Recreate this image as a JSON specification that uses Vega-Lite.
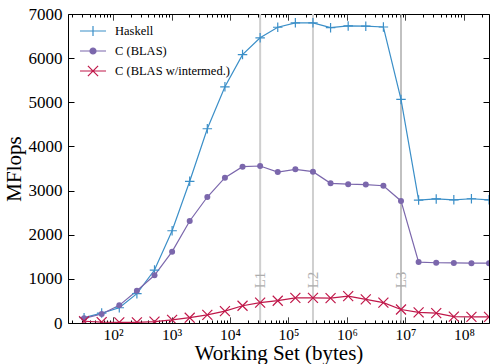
{
  "$schema": "https://vega.github.io/schema/vega-lite/v6.json",
  "width": 421,
  "height": 309,
  "autosize": {"type": "none"},
  "padding": {"left": 68, "top": 14, "right": 1, "bottom": 41},
  "background": "white",
  "config": {
    "view": {"stroke": "#000", "strokeWidth": 1},
    "font": "Liberation Serif",
    "axis": {"domain": false, "grid": false, "tickColor": "#000", "labelColor": "#000", "titleColor": "#000", "labelFont": "Liberation Serif", "titleFont": "Liberation Serif", "titleFontWeight": "normal", "tickSize": -6, "tickWidth": 1}
  },
  "datasets": {
    "perf": [
      {"ws": 32, "mflops": 120, "series": "Haskell"},
      {"ws": 64, "mflops": 225, "series": "Haskell"},
      {"ws": 128, "mflops": 345, "series": "Haskell"},
      {"ws": 256, "mflops": 665, "series": "Haskell"},
      {"ws": 512, "mflops": 1200, "series": "Haskell"},
      {"ws": 1024, "mflops": 2090, "series": "Haskell"},
      {"ws": 2048, "mflops": 3210, "series": "Haskell"},
      {"ws": 4096, "mflops": 4400, "series": "Haskell"},
      {"ws": 8192, "mflops": 5350, "series": "Haskell"},
      {"ws": 16384, "mflops": 6080, "series": "Haskell"},
      {"ws": 32768, "mflops": 6460, "series": "Haskell"},
      {"ws": 65536, "mflops": 6700, "series": "Haskell"},
      {"ws": 131072, "mflops": 6800, "series": "Haskell"},
      {"ws": 262144, "mflops": 6800, "series": "Haskell"},
      {"ws": 524288, "mflops": 6690, "series": "Haskell"},
      {"ws": 1048576, "mflops": 6730, "series": "Haskell"},
      {"ws": 2097152, "mflops": 6725, "series": "Haskell"},
      {"ws": 4194304, "mflops": 6705, "series": "Haskell"},
      {"ws": 8388608, "mflops": 5065, "series": "Haskell"},
      {"ws": 16777216, "mflops": 2785, "series": "Haskell"},
      {"ws": 33554432, "mflops": 2810, "series": "Haskell"},
      {"ws": 67108864, "mflops": 2790, "series": "Haskell"},
      {"ws": 134217728, "mflops": 2815, "series": "Haskell"},
      {"ws": 268435456, "mflops": 2790, "series": "Haskell"},
      {"ws": 32, "mflops": 105, "series": "C (BLAS)"},
      {"ws": 64, "mflops": 204, "series": "C (BLAS)"},
      {"ws": 128, "mflops": 400, "series": "C (BLAS)"},
      {"ws": 256, "mflops": 732, "series": "C (BLAS)"},
      {"ws": 512, "mflops": 1080, "series": "C (BLAS)"},
      {"ws": 1024, "mflops": 1616, "series": "C (BLAS)"},
      {"ws": 2048, "mflops": 2311, "series": "C (BLAS)"},
      {"ws": 4096, "mflops": 2854, "series": "C (BLAS)"},
      {"ws": 8192, "mflops": 3292, "series": "C (BLAS)"},
      {"ws": 16384, "mflops": 3541, "series": "C (BLAS)"},
      {"ws": 32768, "mflops": 3557, "series": "C (BLAS)"},
      {"ws": 65536, "mflops": 3420, "series": "C (BLAS)"},
      {"ws": 131072, "mflops": 3482, "series": "C (BLAS)"},
      {"ws": 262144, "mflops": 3428, "series": "C (BLAS)"},
      {"ws": 524288, "mflops": 3165, "series": "C (BLAS)"},
      {"ws": 1048576, "mflops": 3145, "series": "C (BLAS)"},
      {"ws": 2097152, "mflops": 3135, "series": "C (BLAS)"},
      {"ws": 4194304, "mflops": 3110, "series": "C (BLAS)"},
      {"ws": 8388608, "mflops": 2765, "series": "C (BLAS)"},
      {"ws": 16777216, "mflops": 1380, "series": "C (BLAS)"},
      {"ws": 33554432, "mflops": 1365, "series": "C (BLAS)"},
      {"ws": 67108864, "mflops": 1360, "series": "C (BLAS)"},
      {"ws": 134217728, "mflops": 1355, "series": "C (BLAS)"},
      {"ws": 268435456, "mflops": 1355, "series": "C (BLAS)"},
      {"ws": 32, "mflops": 40, "series": "C (BLAS w/intermed.)"},
      {"ws": 64, "mflops": 20, "series": "C (BLAS w/intermed.)"},
      {"ws": 128, "mflops": 15, "series": "C (BLAS w/intermed.)"},
      {"ws": 256, "mflops": 15, "series": "C (BLAS w/intermed.)"},
      {"ws": 512, "mflops": 30, "series": "C (BLAS w/intermed.)"},
      {"ws": 1024, "mflops": 70, "series": "C (BLAS w/intermed.)"},
      {"ws": 2048, "mflops": 120, "series": "C (BLAS w/intermed.)"},
      {"ws": 4096, "mflops": 185, "series": "C (BLAS w/intermed.)"},
      {"ws": 8192, "mflops": 270, "series": "C (BLAS w/intermed.)"},
      {"ws": 16384, "mflops": 390, "series": "C (BLAS w/intermed.)"},
      {"ws": 32768, "mflops": 460, "series": "C (BLAS w/intermed.)"},
      {"ws": 65536, "mflops": 505, "series": "C (BLAS w/intermed.)"},
      {"ws": 131072, "mflops": 570, "series": "C (BLAS w/intermed.)"},
      {"ws": 262144, "mflops": 570, "series": "C (BLAS w/intermed.)"},
      {"ws": 524288, "mflops": 565, "series": "C (BLAS w/intermed.)"},
      {"ws": 1048576, "mflops": 610, "series": "C (BLAS w/intermed.)"},
      {"ws": 2097152, "mflops": 535, "series": "C (BLAS w/intermed.)"},
      {"ws": 4194304, "mflops": 460, "series": "C (BLAS w/intermed.)"},
      {"ws": 8388608, "mflops": 305, "series": "C (BLAS w/intermed.)"},
      {"ws": 16777216, "mflops": 240, "series": "C (BLAS w/intermed.)"},
      {"ws": 33554432, "mflops": 225, "series": "C (BLAS w/intermed.)"},
      {"ws": 67108864, "mflops": 145, "series": "C (BLAS w/intermed.)"},
      {"ws": 134217728, "mflops": 140, "series": "C (BLAS w/intermed.)"},
      {"ws": 268435456, "mflops": 140, "series": "C (BLAS w/intermed.)"}
    ],
    "caches": [
      {"ws": 32768, "label": "L1"},
      {"ws": 262144, "label": "L2"},
      {"ws": 8388608, "label": "L3"}
    ]
  },
  "layer": [
    {
      "data": {"name": "caches"},
      "mark": {"type": "rule"},
      "encoding": {
        "x": {
          "field": "ws", "type": "quantitative",
          "scale": {"type": "log", "domain": [17, 268000000], "nice": false},
          "axis": {
            "orient": "top", "labels": false, "title": null,
            "values": [20,30,40,50,60,70,80,90,100,200,300,400,500,600,700,800,900,1000,2000,3000,4000,5000,6000,7000,8000,9000,10000,20000,30000,40000,50000,60000,70000,80000,90000,100000,200000,300000,400000,500000,600000,700000,800000,900000,1000000,2000000,3000000,4000000,5000000,6000000,7000000,8000000,9000000,10000000,20000000,30000000,40000000,50000000,60000000,70000000,80000000,90000000,100000000,200000000],
            "tickDash": {"condition": {"test": "abs(log(datum.value)/LN10 - round(log(datum.value)/LN10)) > 0.001", "value": [3, 20]}, "value": [1, 0]}
          }
        },
        "color": {"condition": {"test": "datum.label === 'L3'", "value": "#a0a0a0"}, "value": "#cfcfcf"},
        "strokeWidth": {"condition": {"test": "datum.label === 'L3'", "value": 1.3}, "value": 2}
      }
    },
    {
      "data": {"name": "caches"},
      "mark": {"type": "text", "angle": 270, "fontSize": 15, "font": "Liberation Serif", "align": "center", "baseline": "middle", "color": "#adadad"},
      "encoding": {
        "x": {"field": "ws", "type": "quantitative", "axis": null},
        "y": {"datum": 975, "type": "quantitative", "axis": null},
        "text": {"field": "label"}
      }
    },
    {
      "data": {"name": "perf"},
      "mark": {"type": "line", "strokeWidth": 1.2, "clip": true},
      "encoding": {
        "x": {
          "field": "ws", "type": "quantitative",
          "title": "Working Set (bytes)",
          "axis": {
            "orient": "bottom",
            "values": [20,30,40,50,60,70,80,90,100,200,300,400,500,600,700,800,900,1000,2000,3000,4000,5000,6000,7000,8000,9000,10000,20000,30000,40000,50000,60000,70000,80000,90000,100000,200000,300000,400000,500000,600000,700000,800000,900000,1000000,2000000,3000000,4000000,5000000,6000000,7000000,8000000,9000000,10000000,20000000,30000000,40000000,50000000,60000000,70000000,80000000,90000000,100000000,200000000],
            "tickDash": {"condition": {"test": "abs(log(datum.value)/LN10 - round(log(datum.value)/LN10)) > 0.001", "value": [3, 20]}, "value": [1, 0]},
            "labelExpr": "abs(log(datum.value)/LN10 - round(log(datum.value)/LN10)) < 0.001 && datum.value >= 100 ? '10' + ['⁰','¹','²','³','⁴','⁵','⁶','⁷','⁸','⁹'][round(log(datum.value)/LN10)] : ''",
            "labelFontSize": 15.5,
            "labelPadding": 10,
            "labelFlush": false,
            "labelOverlap": false,
            "labelBound": false,
            "titleFontSize": 21,
            "titlePadding": 0
          }
        },
        "y": {
          "field": "mflops", "type": "quantitative",
          "scale": {"domain": [0, 7000], "nice": false, "zero": true},
          "title": "MFlops",
          "axis": {
            "orient": "left",
            "values": [0, 1000, 2000, 3000, 4000, 5000, 6000, 7000],
            "format": "d",
            "labelFontSize": 17,
            "labelPadding": 12,
            "titleFontSize": 21,
            "titlePadding": 4
          }
        },
        "color": {
          "field": "series", "type": "nominal",
          "scale": {"domain": ["Haskell", "C (BLAS)", "C (BLAS w/intermed.)"], "range": ["#3b8fc8", "#7b67ac", "#c0184a"]},
          "legend": {
            "orient": "none", "legendX": 18, "legendY": 10, "title": null,
            "labelFont": "Liberation Serif", "labelFontSize": 12.5, "labelColor": "#000",
            "symbolSize": 144, "labelOffset": 15, "rowPadding": 5, "padding": 0,
            "symbolStrokeWidth": 1.2,
            "encode": {
              "symbols": {
                "update": {
                  "shape": {"signal": "datum.value === 'Haskell' ? 'M-2.17,0H2.17M0,-0.85V0.85' : datum.value === 'C (BLAS)' ? 'M-2.17,0H2.17M-0.5,0A0.5,0.5 0 1,1 0.5,0A0.5,0.5 0 1,1 -0.5,0Z' : 'M-2.17,0H2.17M-0.85,-0.85L0.85,0.85M-0.85,0.85L0.85,-0.85'"},
                  "fill": {"signal": "datum.value === 'C (BLAS)' ? '#7b67ac' : 'transparent'"},
                  "size": {"value": 144},
                  "strokeWidth": {"value": 1.2}
                }
              }
            }
          }
        }
      }
    },
    {
      "data": {"name": "perf"},
      "transform": [{"filter": "datum.series === 'Haskell'"}],
      "mark": {"type": "point", "shape": "M-1,0H1M0,-1V1", "size": 90, "filled": false, "strokeWidth": 1.2, "color": "#3b8fc8", "opacity": 1, "clip": true},
      "encoding": {
        "x": {"field": "ws", "type": "quantitative", "axis": null},
        "y": {
          "field": "mflops", "type": "quantitative",
          "axis": {"orient": "right", "labels": false, "title": null, "values": [0, 1000, 2000, 3000, 4000, 5000, 6000, 7000]}
        }
      }
    },
    {
      "data": {"name": "perf"},
      "transform": [{"filter": "datum.series === 'C (BLAS)'"}],
      "mark": {"type": "point", "shape": "circle", "size": 36, "filled": true, "color": "#7b67ac", "opacity": 1, "clip": true},
      "encoding": {
        "x": {"field": "ws", "type": "quantitative", "axis": null},
        "y": {"field": "mflops", "type": "quantitative", "axis": null}
      }
    },
    {
      "data": {"name": "perf"},
      "transform": [{"filter": "datum.series === 'C (BLAS w/intermed.)'"}],
      "mark": {"type": "point", "shape": "M-1,-1L1,1M-1,1L1,-1", "size": 100, "filled": false, "strokeWidth": 1.2, "color": "#c0184a", "opacity": 1, "clip": true},
      "encoding": {
        "x": {"field": "ws", "type": "quantitative", "axis": null},
        "y": {"field": "mflops", "type": "quantitative", "axis": null}
      }
    }
  ],
  "resolve": {"axis": {"x": "independent", "y": "independent"}}
}
